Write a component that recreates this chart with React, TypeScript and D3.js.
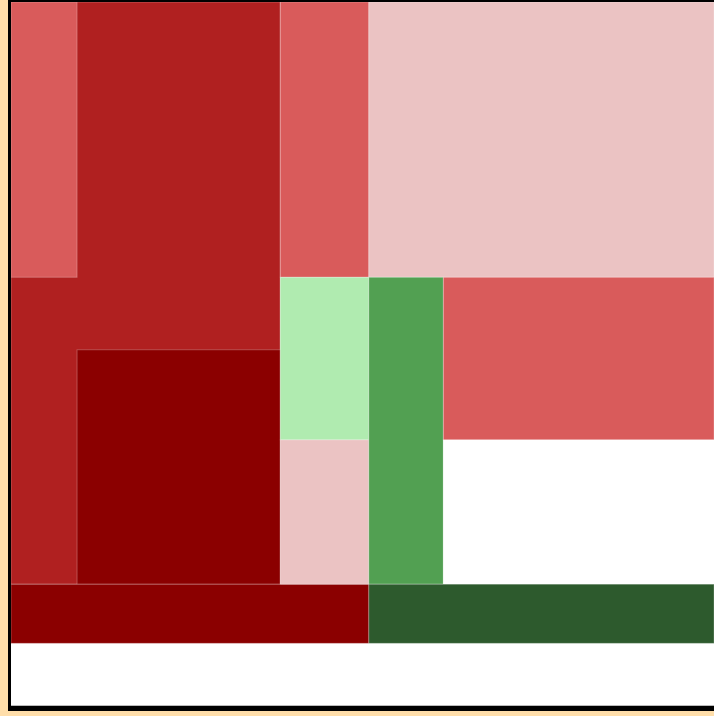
import React, { useEffect, useRef } from 'react';
import * as d3 from 'd3';

// cell edges in normalised units (0..1) across the plot area
const colEdges = [0, 0.094, 0.383, 0.509, 0.615, 1];
const rowEdges = [0, 0.391, 0.494, 0.622, 0.827, 0.911, 1];

interface Cell { x0: number; x1: number; y0: number; y1: number; color: string; }

// drawn in order, later cells sit on top
const cells: Cell[] = [
    { x0: 0, x1: 2, y0: 0, y1: 4, color: '#b02020' },
    { x0: 0, x1: 1, y0: 0, y1: 1, color: '#d95b5b' },
    { x0: 1, x1: 2, y0: 2, y1: 4, color: '#8b0000' },
    { x0: 0, x1: 3, y0: 4, y1: 5, color: '#8b0000' },
    { x0: 2, x1: 3, y0: 0, y1: 1, color: '#d95b5b' },
    { x0: 3, x1: 5, y0: 0, y1: 1, color: '#ebc3c3' },
    { x0: 2, x1: 3, y0: 1, y1: 3, color: '#b0ebb0' },
    { x0: 2, x1: 3, y0: 3, y1: 4, color: '#ebc3c3' },
    { x0: 3, x1: 4, y0: 1, y1: 4, color: '#52a052' },
    { x0: 4, x1: 5, y0: 1, y1: 3, color: '#d95b5b' },
    { x0: 4, x1: 5, y0: 3, y1: 4, color: '#ffffff' },
    { x0: 3, x1: 5, y0: 4, y1: 5, color: '#2d5a2d' },
];

const width = 714;
const height = 716;

const App: React.FC = () => {
    const svgRef = useRef<SVGSVGElement>(null);

    useEffect(() => {
        if (!svgRef.current) return;
        const svg = d3.select(svgRef.current);
        svg.selectAll('*').remove();

        const x = d3.scaleLinear().domain([0, 1]).range([11, 714]);
        const y = d3.scaleLinear().domain([0, 1]).range([2, 706]);

        svg.append('rect')
            .attr('width', width).attr('height', height)
            .attr('fill', '#ffdeaa');

        // plot background
        svg.append('rect')
            .attr('x', x(0)).attr('y', y(0))
            .attr('width', x(1) - x(0)).attr('height', y(1) - y(0))
            .attr('fill', '#fff');

        svg.append('g')
            .selectAll('rect')
            .data(cells)
            .join('rect')
            .attr('x', d => x(colEdges[d.x0]))
            .attr('y', d => y(rowEdges[d.y0]))
            .attr('width', d => x(colEdges[d.x1]) - x(colEdges[d.x0]))
            .attr('height', d => y(rowEdges[d.y1]) - y(rowEdges[d.y0]))
            .attr('fill', d => d.color)
            .attr('stroke', 'rgba(255,255,255,0.25)')
            .attr('stroke-width', 1);

        // frame
        svg.append('rect').attr('x', 8).attr('y', 0).attr('width', 3).attr('height', 711).attr('fill', '#000');
        svg.append('rect').attr('x', 8).attr('y', 0).attr('width', width).attr('height', 2).attr('fill', '#000');
        svg.append('rect').attr('x', 8).attr('y', y(1)).attr('width', width).attr('height', 5).attr('fill', '#000');
        svg.append('rect').attr('x', 11).attr('y', y(1) - 1).attr('width', width).attr('height', 1).attr('fill', '#bbb');
    }, []);

    return (
        <div style={{ position: 'fixed', left: 0, top: 0, width, height }}>
            <svg ref={svgRef} width={width} height={height} style={{ display: 'block' }} />
        </div>
    );
};

export default App;
